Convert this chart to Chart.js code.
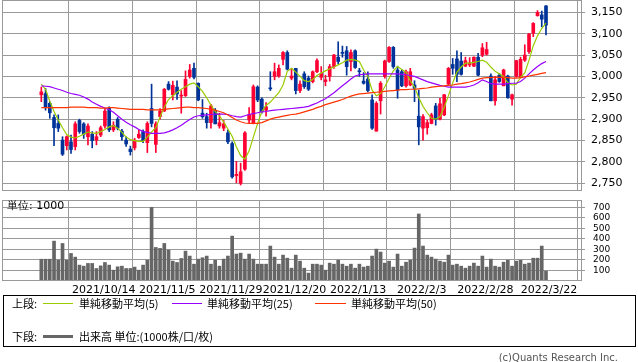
<!DOCTYPE html>
<html><head><meta charset="utf-8">
<script src="https://cdn.jsdelivr.net/npm/chart.js@4.4.1/dist/chart.umd.min.js"></script>
<style>
body{margin:0;background:#fff;width:638px;height:362px;position:relative;overflow:hidden;font-family:"DejaVu Sans",sans-serif;}
#c1w{position:absolute;left:0;top:0;width:638px;height:192px;}
#c2w{position:absolute;left:0;top:200px;width:638px;height:100px;}
.t{position:absolute;white-space:nowrap;font-size:11px;height:14px;line-height:14px;color:#000;font-family:"Noto Sans CJK JP","DejaVu Sans",sans-serif;}
.ln{position:absolute;height:1px;}
#legend{position:absolute;left:3px;top:295px;width:633px;height:52px;box-sizing:border-box;border:1px solid #000;}
</style>
</head><body>
<div id="c1w"><canvas id="c1" width="638" height="192"></canvas></div>
<div id="c2w"><canvas id="c2" width="638" height="100"></canvas></div>
<div class="t" style="left:7px;top:199px;font-family:'DejaVu Sans',sans-serif;">単位: 1000</div>
<div id="legend"></div>
<div class="t" style="left:12px;top:296px;">上段:</div>
<div class="ln" style="left:43px;top:303px;width:30px;background:#99cc00;"></div>
<div class="t" style="left:79px;top:296px;">単純移動平均(5)</div>
<div class="ln" style="left:172px;top:303px;width:30px;background:#9900ff;"></div>
<div class="t" style="left:207px;top:296px;">単純移動平均(25)</div>
<div class="ln" style="left:315px;top:303px;width:31px;background:#ff3300;"></div>
<div class="t" style="left:351px;top:296px;">単純移動平均(50)</div>
<div class="t" style="left:12px;top:329px;">下段:</div>
<div class="ln" style="left:43px;top:335px;width:30px;height:3px;background:#666;"></div>
<div class="t" style="left:79px;top:329px;">出来高 単位:(1000株/口/枚)</div>
<div class="t" style="right:20px;top:351px;font-size:10px;color:#555;font-family:'DejaVu Sans',sans-serif;">(c)Quants Research Inc.</div>
<script>
// ---- data ----
const tickIdx = [14, 29, 44, 59, 74, 89, 104, 119];
const dateLabels = ["2021/10/14","2021/11/5","2021/11/29","2021/12/20","2022/1/13","2022/2/3","2022/2/28","2022/3/22"];
const priceTicks = [2750,2800,2850,2900,2950,3000,3050,3100,3150];
const volTicks = [100,200,300,400,500,600,700];

const openP = [
2957,2960,2937,2904,2890,2851,2838,2847,2836,2897,
2889,2859,2865,2851,2863,2884,2925,2875,2900,2872,
2851,2830,2833,2857,2871,2845,2925,2841,2906,2919,
2982,2957,2975,2954,2955,3000,3019,2984,2914,2906,
2892,2921,2884,2879,2868,2843,2768,2750,2783,2898,
2890,2975,2947,2921,2973,3000,3001,3040,3056,2996,
3019,2967,3006,2996,2988,3011,2998,2988,3000,3023,
3045,3055,3060,3035,3060,3012,2989,2994,2945,2872,
2943,3000,3035,3068,3015,3011,2978,2980,2980,2907,
2879,2880,2890,2931,2900,2910,2982,3028,3041,3036,
3024,3027,3024,3045,3050,3052,3001,2943,3003,2978,
3001,2947,3000,3000,3038,3058,3101,3142,3144,3165];
const closeP = [
2964,2929,2915,2880,2879,2818,2859,2829,2889,2871,
2865,2884,2850,2859,2880,2919,2875,2886,2879,2859,
2842,2824,2851,2865,2850,2890,2890,2889,2919,2970,
2970,2979,2959,2956,2993,3015,2998,2945,2906,2892,
2931,2889,2892,2889,2847,2765,2771,2777,2868,2911,
2976,2945,2918,2929,2971,3011,3019,3056,3017,3001,
2967,2982,2976,2970,3011,3037,3007,2992,3023,3050,
3035,3054,3023,3056,3021,3011,2984,2967,2879,2937,
2984,3036,3068,3023,2968,2978,3011,3011,2972,2882,
2906,2892,2910,2900,2936,2957,3019,3019,3005,3005,
3037,3032,3045,3003,3067,3063,2943,2992,2988,3015,
2950,2957,3037,3040,3050,3099,3124,3150,3134,3120];
const highP = [
2975,2972,2941,2910,2910,2859,2861,2863,2894,2900,
2892,2889,2871,2871,2884,2925,2929,2894,2904,2876,
2859,2837,2855,2875,2875,2894,2982,2894,2925,2972,
2988,2989,2990,2967,3013,3028,3031,2985,2946,2914,
2935,2925,2914,2897,2875,2847,2801,2797,2871,2927,
2980,2978,2950,2939,3011,3031,3027,3058,3060,3019,
3019,2990,3011,3001,3013,3041,3023,3003,3028,3052,
3081,3071,3070,3062,3062,3019,3009,3011,2957,2941,
2988,3038,3070,3070,3024,3015,3015,3019,2990,2968,
2911,2898,2914,2937,2949,2958,3021,3042,3060,3056,
3045,3044,3046,3054,3077,3080,3006,3000,3007,3017,
3003,2959,3038,3045,3074,3101,3126,3154,3153,3166];
const lowP = [
2941,2921,2902,2838,2871,2815,2828,2820,2828,2867,
2855,2840,2833,2840,2859,2879,2871,2871,2875,2851,
2836,2816,2828,2855,2845,2822,2882,2822,2900,2918,
2968,2945,2946,2914,2953,2996,2994,2943,2902,2879,
2879,2889,2879,2873,2843,2762,2751,2746,2780,2890,
2889,2941,2914,2907,2967,2992,2998,3027,3015,2992,
2959,2962,2972,2967,2985,3009,2992,2978,2989,3019,
3029,3045,3003,3013,3019,3000,2982,2964,2876,2872,
2912,2996,3033,3019,2949,2976,2975,2978,2941,2840,
2851,2865,2889,2886,2898,2908,2980,3005,2988,3003,
3023,3023,3023,3001,3046,3050,2943,2933,2986,2978,
2949,2933,2998,2996,3035,3054,3093,3141,3116,3097];
const volume = [
207,207,207,379,198,357,198,262,227,151,
141,167,167,119,144,176,151,103,135,141,
119,119,132,103,151,198,700,319,310,357,
294,189,176,214,284,237,160,208,221,237,
160,198,141,208,237,427,256,265,208,256,
208,160,160,160,332,227,160,246,217,122,
246,189,122,75,160,160,151,103,170,160,
198,160,141,160,122,160,132,141,237,303,
275,170,189,132,256,141,179,198,313,637,
332,246,227,208,189,179,246,151,160,141,
122,141,170,141,237,132,208,141,132,179,
198,141,189,198,160,170,217,217,332,94];
const ma5 = [
2982,2970,2942,2918,2898,2880,2864,2858,2856,2860,
2865,2870,2868,2867,2871,2876,2882,2885,2879,2869,
2858,2852,2850,2848,2848,2858,2870,2880,2905,2928,
2946,2955,2963,2970,2976,2982,2985,2976,2965,2950,
2933,2918,2908,2893,2877,2860,2835,2815,2806,2826,
2858,2890,2918,2932,2940,2951,2962,2980,3012,3019,
3010,3000,2990,2988,2993,3002,3008,3013,3018,3022,
3027,3032,3038,3040,3038,3035,3015,3000,2968,2955,
2960,2976,2995,3013,3023,3016,3010,2990,2975,2950,
2930,2915,2902,2900,2906,2928,2955,2985,3010,3022,
3031,3031,3033,3035,3038,3033,3022,3012,3006,3000,
2985,2980,2982,2998,3008,3038,3072,3095,3112,3125];
const ma25 = [
2978,2977,2976,2973,2970,2967,2963,2960,2958,2956,
2952,2947,2940,2935,2930,2926,2922,2916,2908,2900,
2893,2887,2882,2876,2871,2869,2867,2867,2867,2868,
2871,2875,2880,2886,2893,2899,2905,2908,2909,2910,
2911,2912,2912,2912,2911,2908,2906,2905,2908,2911,
2913,2915,2917,2918,2920,2921,2922,2923,2924,2925,
2926,2927,2928,2930,2934,2938,2943,2948,2955,2962,
2970,2978,2986,2994,3001,3004,3005,3006,3006,3006,
3006,3006,3006,3006,3006,3005,3004,3002,3000,2996,
2992,2988,2985,2982,2979,2977,2975,2975,2975,2975,
2975,2977,2980,2985,2992,2988,2983,2982,2982,2982,
2983,2984,2984,2988,2996,3006,3015,3023,3030,3035];
const ma50 = [
2927,2927,2927,2927,2927,2927,2927,2928,2928,2928,
2928,2927,2927,2927,2926,2926,2927,2927,2926,2925,
2924,2923,2923,2923,2923,2922,2922,2922,2922,2923,
2924,2925,2926,2927,2928,2928,2927,2927,2926,2925,
2923,2921,2918,2915,2910,2904,2898,2894,2891,2890,
2890,2890,2892,2896,2900,2903,2905,2907,2909,2911,
2912,2914,2917,2920,2923,2927,2930,2934,2937,2940,
2943,2946,2950,2954,2957,2959,2960,2961,2962,2963,
2964,2965,2966,2967,2968,2969,2969,2970,2970,2971,
2972,2973,2975,2976,2977,2978,2979,2980,2982,2983,
2985,2987,2990,2993,2996,2997,2997,2998,2998,2998,
2997,2996,2996,2997,2999,3001,3003,3005,3007,3009];

// ---- styles ----
const UP = '#ff0033', DOWN = '#003399', GRID = '#999999';
const xMin = -9.27, xMax = 127.49;
const candleColors = openP.map((o, i) => closeP[i] >= o ? UP : DOWN);

const boxPlugin = {id:'box', afterDraw(c){
  const a = c.chartArea, ctx = c.ctx;
  ctx.save(); ctx.strokeStyle = GRID; ctx.lineWidth = 1;
  ctx.strokeRect(Math.round(a.left)+0.5, Math.round(a.top)+0.5, Math.round(a.right-a.left)-1, Math.round(a.bottom-a.top)-1);
  ctx.restore();
}};

function xAxis(showLabels, h){
  return {
    type:'linear', min:xMin, max:xMax, offset:false,
    afterBuildTicks: s => { s.ticks = tickIdx.map(v => ({value:v})); },
    afterFit: s => { s.height = h; s.paddingLeft = 0; s.paddingRight = 0; },
    ticks:{display:showLabels, autoSkip:false, maxRotation:0, minRotation:0, padding:3, labelOffset:3,
      color:'#000', font:{family:'DejaVu Sans', size:11},
      callback: v => { const k = tickIdx.indexOf(v); return k >= 0 ? dateLabels[k] : ''; }},
    grid:{color:GRID, lineWidth:1, drawTicks:false},
    border:{display:false}
  };
}
function yAxis(min, max, ticks, fmt, size, pad){
  return {
    type:'linear', position:'right', min:min, max:max,
    afterBuildTicks: s => { s.ticks = ticks.map(v => ({value:v})); },
    afterFit: s => { s.width = 56; s.paddingTop = 0; s.paddingBottom = 0; },
    ticks:{autoSkip:false, padding:pad, color:'#000', font:{family:'DejaVu Sans', size:size}, callback: fmt},
    grid:{color:GRID, lineWidth:1, tickLength:3},
    border:{display:false}
  };
}
const commonOpts = {responsive:false, animation:false, events:[],
  plugins:{legend:{display:false}, tooltip:{enabled:false}}};

new Chart(document.getElementById('c1'), {
  type:'bar',
  data:{datasets:[
    {type:'line', data:ma50.map((v,i)=>({x:i,y:v})), borderColor:'#ff3300', borderWidth:1.2, pointRadius:0, tension:0, fill:false, order:1},
    {type:'line', data:ma25.map((v,i)=>({x:i,y:v})), borderColor:'#9900ff', borderWidth:1.2, pointRadius:0, tension:0, fill:false, order:1},
    {type:'line', data:ma5.map((v,i)=>({x:i,y:v})), borderColor:'#99cc00', borderWidth:1.2, pointRadius:0, tension:0, fill:false, order:1},
    {type:'bar', data:lowP.map((v,i)=>({x:i,y:[v,highP[i]]})), backgroundColor:candleColors, barThickness:1, grouped:false, order:3},
    {type:'bar', data:openP.map((v,i)=>({x:i,y:[v,closeP[i]]})), backgroundColor:candleColors, barThickness:3, minBarLength:1, grouped:false, order:2}
  ]},
  options:Object.assign({}, commonOpts, {
    layout:{padding:{left:2, top:0, right:0, bottom:0}},
    scales:{
      x: xAxis(false, 1),
      y: yAxis(2732.0, 3178.8, priceTicks, v => v.toLocaleString('en-US'), 11, 6)
    }
  }),
  plugins:[boxPlugin]
});

new Chart(document.getElementById('c2'), {
  type:'bar',
  data:{datasets:[
    {type:'bar', data:volume.map((v,i)=>({x:i,y:v})), backgroundColor:'#666666', barThickness:3, grouped:false}
  ]},
  options:Object.assign({}, commonOpts, {
    layout:{padding:{left:2, top:0, right:0, bottom:0}},
    scales:{
      x: xAxis(true, 19),
      y: yAxis(0, 770, volTicks, v => String(v), 9, 8)
    }
  }),
  plugins:[boxPlugin]
});
</script>
</body></html>
